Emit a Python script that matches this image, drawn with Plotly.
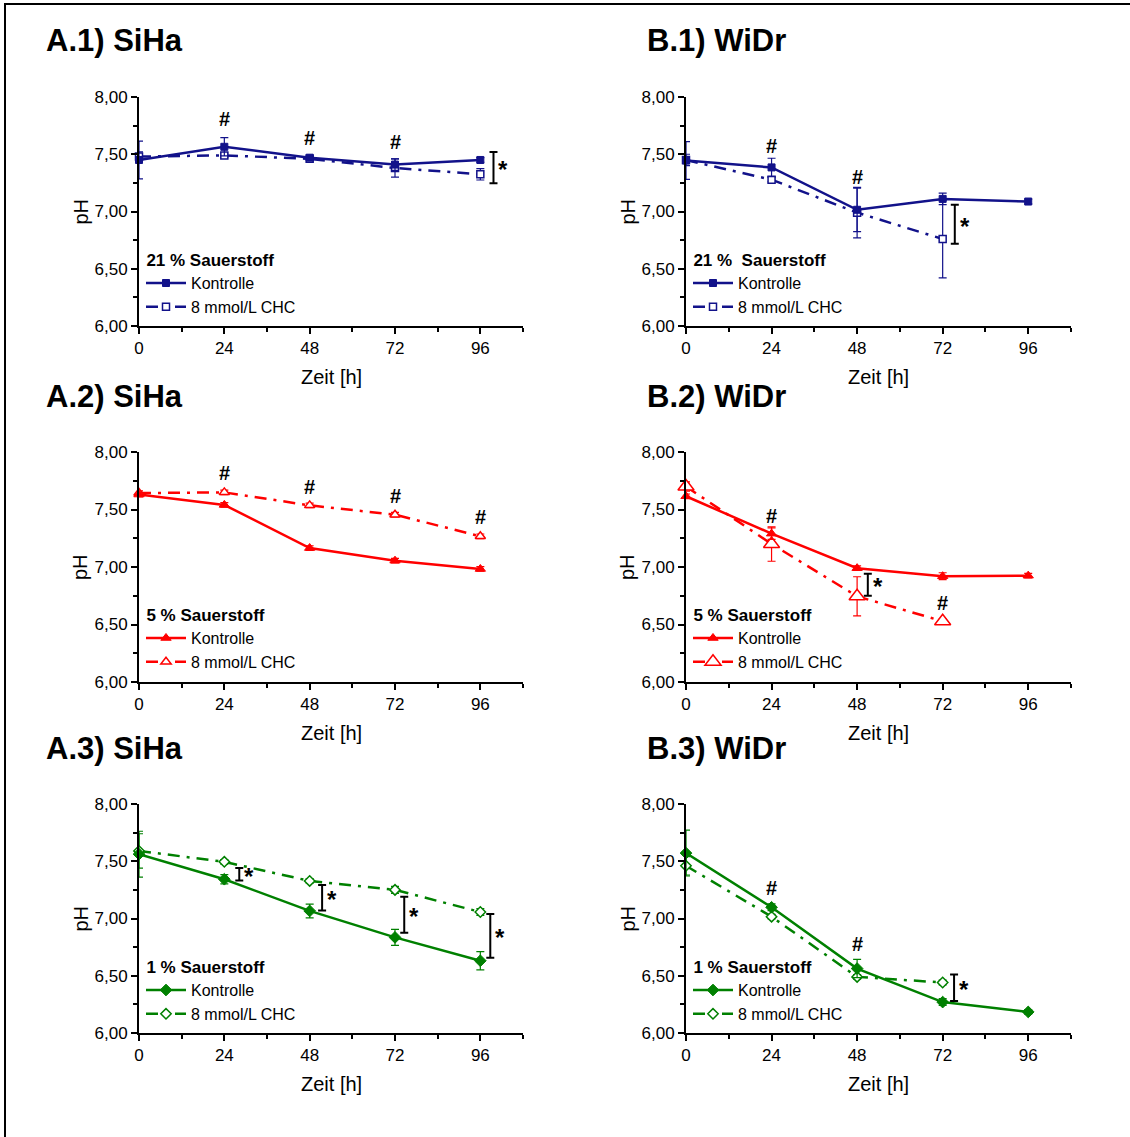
import plotly.graph_objects as go

# ---------------- data ----------------
hours = [0, 24, 48, 72, 96]
hours_4 = [0, 24, 48, 72]

# A.1 SiHa 21 % O2
a1_ctrl = [7.45, 7.565, 7.47, 7.41, 7.45]
a1_ctrl_err = [0.165, 0.08, 0.01, 0.05, 0.02]
a1_chc = [7.48, 7.49, 7.46, 7.38, 7.325]
a1_chc_err = [0.04, 0.02, 0.01, 0.08, 0.05]

# B.1 WiDr 21 % O2
b1_ctrl = [7.445, 7.385, 7.015, 7.11, 7.087]
b1_ctrl_err = [0.165, 0.08, 0.19, 0.05, 0.02]
b1_chc = [7.45, 7.278, 6.99, 6.76]
b1_chc_err = [0.05, 0.02, 0.22, 0.34]

# A.2 SiHa 5 % O2
a2_ctrl = [7.63, 7.54, 7.165, 7.055, 6.983]
a2_ctrl_err = [0.02, 0.02, 0.02, 0.02, 0.02]
a2_chc = [7.643, 7.649, 7.536, 7.455, 7.267]
a2_chc_err = [0.02, 0.02, 0.02, 0.02, 0.02]

# B.2 WiDr 5 % O2
b2_ctrl = [7.615, 7.29, 6.99, 6.92, 6.925]
b2_ctrl_err = [0.02, 0.05, 0.02, 0.03, 0.02]
b2_chc = [7.70, 7.20, 6.745, 6.528]
b2_chc_err = [0.04, 0.15, 0.17, 0.02]

# A.3 SiHa 1 % O2
a3_ctrl = [7.562, 7.343, 7.066, 6.835, 6.631]
a3_ctrl_err = [0.2, 0.04, 0.06, 0.07, 0.08]
a3_chc = [7.59, 7.495, 7.328, 7.25, 7.057]
a3_chc_err = [0.15, 0.02, 0.02, 0.03, 0.03]

# B.3 WiDr 1 % O2
b3_ctrl = [7.571, 7.098, 6.563, 6.27, 6.184]
b3_ctrl_err = [0.2, 0.03, 0.08, 0.03, 0.02]
b3_chc = [7.46, 7.016, 6.49, 6.441]
b3_chc_err = [0.08, 0.02, 0.02, 0.02]

# significance brackets (x, low, high) per panel
a1_sig = [(99.7, 7.246, 7.52)]
b1_sig = [(75.4, 6.719, 7.058)]
a2_sig = []
b2_sig = [(51.0, 6.751, 6.942)]
a3_sig = [(28.2, 7.331, 7.44), (51.5, 7.069, 7.293), (74.6, 6.876, 7.191), (98.8, 6.657, 7.039)]
b3_sig = [(75.2, 6.28, 6.511)]

# "#" markers (x, y) per panel
a1_hash = [(24, 7.81), (48, 7.638), (72, 7.61)]
b1_hash = [(24, 7.57), (48, 7.30)]
a2_hash = [(24, 7.817), (48, 7.70), (72, 7.62), (96, 7.435)]
b2_hash = [(24, 7.44), (72, 6.687)]
a3_hash = []
b3_hash = [(24, 7.264), (48, 6.777)]

titles = ["A.1) SiHa", "B.1) WiDr", "A.2) SiHa", "B.2) WiDr", "A.3) SiHa", "B.3) WiDr"]
legend_titles = ["21 % Sauerstoff", "21 %\u00a0 Sauerstoff", "5 % Sauerstoff",
                 "5 % Sauerstoff", "1 % Sauerstoff", "1 % Sauerstoff"]
series_names = ["Kontrolle", "8 mmol/L CHC"]
x_ticks = [0, 24, 48, 72, 96]
y_ticks = [6.0, 6.5, 7.0, 7.5, 8.0]

# ---------------- styling ----------------
W, H = 1130, 1137
NAVY = "#12128a"
RED = "#ff0000"
GREEN = "#008000"
FONT = "Liberation Sans, Arial, sans-serif"

col_px = [(139, 523), (686, 1071)]
row_px = [(97, 326), (452, 682), (804, 1033)]

panels = [
    dict(ctrl=a1_ctrl, ce=a1_ctrl_err, chc=a1_chc, he=a1_chc_err, chx=hours, sig=a1_sig, hsh=a1_hash,
         color=NAVY, sym="square", csize=7, hsize=7),
    dict(ctrl=b1_ctrl, ce=b1_ctrl_err, chc=b1_chc, he=b1_chc_err, chx=hours_4, sig=b1_sig, hsh=b1_hash,
         color=NAVY, sym="square", csize=7, hsize=7),
    dict(ctrl=a2_ctrl, ce=a2_ctrl_err, chc=a2_chc, he=a2_chc_err, chx=hours, sig=a2_sig, hsh=a2_hash,
         color=RED, sym="triangle-up", csize=9, hsize=9),
    dict(ctrl=b2_ctrl, ce=b2_ctrl_err, chc=b2_chc, he=b2_chc_err, chx=hours_4, sig=b2_sig, hsh=b2_hash,
         color=RED, sym="triangle-up", csize=9, hsize=14),
    dict(ctrl=a3_ctrl, ce=a3_ctrl_err, chc=a3_chc, he=a3_chc_err, chx=hours, sig=a3_sig, hsh=a3_hash,
         color=GREEN, sym="diamond", csize=9, hsize=8),
    dict(ctrl=b3_ctrl, ce=b3_ctrl_err, chc=b3_chc, he=b3_chc_err, chx=hours_4, sig=b3_sig, hsh=b3_hash,
         color=GREEN, sym="diamond", csize=9, hsize=8),
]

fig = go.Figure()
annotations = []
layout_extra = {}

for i, p in enumerate(panels):
    r, c = divmod(i, 2)
    n = i + 1
    xs = "" if n == 1 else str(n)
    xref, yref = "x" + xs, "y" + xs
    leg = "legend" + xs
    col = p["color"]

    # CHC series
    fig.add_trace(go.Scatter(
        x=p["chx"], y=p["chc"], name=series_names[1], mode="lines+markers",
        xaxis=xref, yaxis=yref, legend=leg, legendrank=2, cliponaxis=False,
        line=dict(color=col, width=2.5, dash="12px,7px,3px,7px"),
        marker=dict(symbol=p["sym"], size=p["hsize"], color="white", line=dict(color=col, width=1.5)),
        error_y=dict(type="data", array=p["he"], color=col, thickness=1.2, width=4),
    ))
    # Kontrolle series
    fig.add_trace(go.Scatter(
        x=hours, y=p["ctrl"], name=series_names[0], mode="lines+markers",
        xaxis=xref, yaxis=yref, legend=leg, legendrank=1, cliponaxis=False,
        line=dict(color=col, width=2.5),
        marker=dict(symbol=p["sym"], size=p["csize"], color=col, line=dict(color=col, width=1)),
        error_y=dict(type="data", array=p["ce"], color=col, thickness=1.2, width=4),
    ))
    # significance brackets
    for (bx, lo, hi) in p["sig"]:
        fig.add_trace(go.Scatter(
            x=[bx], y=[(lo + hi) / 2], mode="markers", showlegend=False, cliponaxis=False,
            xaxis=xref, yaxis=yref, hoverinfo="skip",
            marker=dict(size=1, color="rgba(0,0,0,0)"),
            error_y=dict(type="data", array=[(hi - lo) / 2], color="black", thickness=2, width=4),
        ))
        annotations.append(dict(x=bx, y=(lo + hi) / 2, xref=xref, yref=yref, text="<b>*</b>",
                                showarrow=False, xshift=10, yshift=-2,
                                font=dict(family=FONT, size=24, color="black")))
    for (hx, hy) in p["hsh"]:
        annotations.append(dict(x=hx, y=hy, xref=xref, yref=yref, text="<b>#</b>",
                                showarrow=False, font=dict(family=FONT, size=20, color="black")))

    x0, x1 = col_px[c]
    ytop, ybot = row_px[r]
    axis_common = dict(showline=True, linecolor="black", linewidth=2, ticks="outside",
                       tickwidth=1.5, tickcolor="black", ticklen=6, showgrid=False, zeroline=False,
                       automargin=False,
                       tickfont=dict(family=FONT, size=17, color="black"), fixedrange=True)
    layout_extra["xaxis" + xs] = dict(
        domain=[x0 / W, x1 / W], range=[0, 108], anchor=yref,
        tickvals=x_ticks, minor=dict(ticks="outside", tickvals=[12, 36, 60, 84, 108],
                                     ticklen=4, tickwidth=1.5, tickcolor="black"),
        **axis_common)
    layout_extra["yaxis" + xs] = dict(
        domain=[1 - ybot / H, 1 - ytop / H], range=[6, 8], anchor=xref,
        tickvals=y_ticks, tickformat=".2f",
        minor=dict(ticks="outside", tickvals=[6.25, 6.75, 7.25, 7.75],
                   ticklen=4, tickwidth=1.5, tickcolor="black"),
        **axis_common)

    # legend
    layout_extra[leg] = dict(
        x=(x0 + 2) / W, y=1 - (ytop + 147) / H, xanchor="left", yanchor="top",
        bgcolor="rgba(0,0,0,0)", borderwidth=0, itemwidth=40, tracegroupgap=0,
        font=dict(family=FONT, size=16, color="black"),
        title=dict(text="<b>\u2009" + legend_titles[i] + "</b>",
                   font=dict(family=FONT, size=17, color="black")),
    )

    # panel title
    annotations.append(dict(x=(44 if c == 0 else 645) / W, y=1 - (ytop - 56) / H,
                            xref="paper", yref="paper", xanchor="left", yanchor="middle",
                            text="<b>" + titles[i] + "</b>", showarrow=False,
                            font=dict(family=FONT, size=31, color="black")))
    # axis titles
    annotations.append(dict(x=((x0 + x1) / 2) / W, y=1 - (ybot + 51) / H,
                            xref="paper", yref="paper", xanchor="center", yanchor="middle",
                            text="Zeit [h]", showarrow=False,
                            font=dict(family=FONT, size=20, color="black")))
    annotations.append(dict(x=(x0 - 59) / W, y=1 - ((ytop + ybot) / 2) / H,
                            xref="paper", yref="paper", xanchor="center", yanchor="middle",
                            text="pH", textangle=-90, showarrow=False,
                            font=dict(family=FONT, size=20, color="black")))

fig.update_layout(
    width=W, height=H, margin=dict(l=0, r=0, t=0, b=0, autoexpand=False),
    paper_bgcolor="white", plot_bgcolor="white",
    separators=",.", showlegend=True,
    font=dict(family=FONT, size=17, color="black"),
    annotations=annotations,
    shapes=[dict(type="rect", xref="paper", yref="paper",
                 x0=5 / W, x1=1.02, y0=-0.02, y1=1 - 4 / H,
                 line=dict(color="black", width=2), fillcolor="rgba(0,0,0,0)")],
    **layout_extra,
)

fig.write_html("out.html", config={"displayModeBar": False},
               post_script="document.body.style.margin='0';")
